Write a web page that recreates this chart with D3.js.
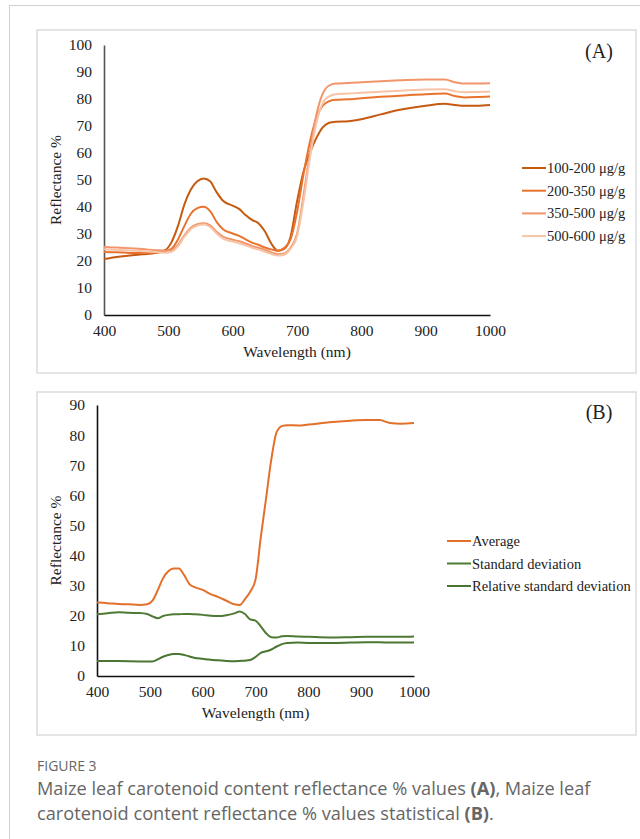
<!DOCTYPE html>
<html>
<head>
<meta charset="utf-8">
<script src="https://cdn.jsdelivr.net/npm/d3@7"></script>
<style>
  html, body { margin: 0; padding: 0; background: #fff; }
  svg { display: block; }
  .serif { font-family: "Liberation Serif", "Times New Roman", serif; fill: #222; }
  .cap { font-family: "Open Sans", "Noto Sans", sans-serif; fill: #666; }
</style>
</head>
<body>
<svg id="fig" width="640" height="839"></svg>
<script>
// ---- Panel A: reflectance by carotenoid content class ----
const wlA = [400,420,440,460,480,495,505,515,525,535,545,555,565,575,585,600,610,620,630,640,650,660,670,680,
             690,700,710,720,730,740,750,760,780,800,830,860,900,930,945,960,980,1000];
const s100_200 = [20.7,21.5,22.0,22.5,23.0,24.0,27.0,33.0,41.0,46.5,49.5,50.6,49.5,45.5,42.3,40.5,39.3,37.0,35.2,34.0,31.0,26.5,23.8,24.5,
                  29,42,53,60,65.5,69.5,71.2,71.6,71.8,72.5,74.3,76.0,77.5,78.2,77.8,77.5,77.5,77.8];
const s200_350 = [23.3,23.2,23.0,23.0,23.1,23.6,24.5,28,33,37.5,39.6,40.1,38.5,34.5,31.8,30.2,29.3,28,26.8,26,25,24.3,23.8,24.8,
                  28,38,52,64,73,77.5,79.2,79.7,79.9,80.3,80.8,81.2,81.8,82.0,81.1,80.6,80.7,80.9];
const s350_500 = [25.2,25,24.7,24.4,24.0,23.8,24.0,26,29.5,32.3,33.6,34,33.2,30.8,29,27.9,27.3,26.5,25.6,24.9,24.1,23.2,22.5,22.8,
                  25,30,44,60,74,82,85,85.7,85.9,86.2,86.6,86.9,87.2,87.2,86.2,85.7,85.7,85.8];
const s500_600 = [24.4,24.2,23.9,23.6,23.3,23.1,23.4,25.4,29,31.8,33.1,33.5,32.6,30.2,28.3,27.2,26.6,25.8,24.9,24.2,23.4,22.6,22,22.3,
                  24.5,29,42,58,71,78.5,81,81.8,82,82.3,82.7,83.1,83.5,83.6,82.9,82.5,82.6,82.7];
const namesA = ["100-200 μg/g","200-350 μg/g","350-500 μg/g","500-600 μg/g"];
const colorsA = ["#C55A11","#E8732E","#F2956A","#F7C4A8"];
const ticksA_y = [0,10,20,30,40,50,60,70,80,90,100];
const ticksX = [400,500,600,700,800,900,1000];

// ---- Panel B: summary statistics ----
const wlB = [400,420,440,460,480,495,505,515,525,535,545,555,565,575,585,600,615,630,645,660,670,680,690,700,710,720,730,740,750,760,
             780,800,840,880,910,935,955,975,1000];
const average = [24.4,24.2,23.9,23.8,23.6,23.8,25,28.5,32.5,34.8,35.7,35.7,33.5,30.5,29.5,28.6,27.2,26.2,25,23.8,23.6,25.5,28,32,46,59,72,81,83,83.3,
                 83.2,83.5,84.3,84.8,85,85,84,83.8,84];
const stdDev = [20.5,20.8,21.2,21,20.9,20.6,19.8,19.2,19.9,20.3,20.5,20.5,20.6,20.6,20.5,20.3,20.0,19.9,20.2,20.8,21.4,20.6,18.8,18.4,16.5,14.2,12.9,12.8,13.2,13.3,
                13.1,13.0,12.8,12.9,13.0,13.0,13.0,13.0,13.1];
const relStdDev = [5.0,5.0,4.95,4.9,4.85,4.8,4.8,5.5,6.4,7.0,7.3,7.3,7.0,6.5,6.0,5.7,5.4,5.2,5.0,4.9,5.0,5.1,5.3,6.3,7.7,8.2,8.8,9.8,10.6,11.0,
                   11.1,11.0,11.0,11.1,11.2,11.2,11.1,11.1,11.1];
const namesB = ["Average","Standard deviation","Relative standard deviation"];
const colorsB = ["#E2702B","#4E7A34","#4A7632"];
const ticksB_y = [0,10,20,30,40,50,60,70,80,90];

const svg = d3.select("#fig");

// page frame lines
svg.append("line").attr("x1", 9.5).attr("x2", 9.5).attr("y1", 5).attr("y2", 839).attr("stroke", "#cfcfcf").attr("stroke-width", 1);
svg.append("line").attr("x1", 9.5).attr("x2", 640).attr("y1", 5.5).attr("y2", 5.5).attr("stroke", "#cfcfcf").attr("stroke-width", 1);

function panel(cfg) {
  const g = svg.append("g");
  g.append("rect").attr("x", cfg.box[0]).attr("y", cfg.box[1]).attr("width", cfg.box[2]).attr("height", cfg.box[3])
    .attr("fill", "#fff").attr("stroke", "#dcdcdc").attr("stroke-width", 1.5);

  const x = d3.scaleLinear().domain([400, 1000]).range([cfg.x0, cfg.x1]);
  const y = d3.scaleLinear().domain([0, cfg.ymax]).range([cfg.y0, cfg.y1]);

  // y axis
  const ya = g.append("g").attr("transform", `translate(${cfg.x0},0)`)
    .call(d3.axisLeft(y).tickValues(cfg.yticks).tickSize(0).tickPadding(cfg.ypad));
  ya.select(".domain").attr("stroke", cfg.yAxisColor).attr("stroke-width", 1.6);
  ya.selectAll("text").attr("class", "serif").attr("font-size", 15.5).attr("fill", "#222");

  // x axis
  const xa = g.append("g").attr("transform", `translate(0,${cfg.y0})`)
    .call(d3.axisBottom(x).tickValues(ticksX).tickSize(0).tickPadding(10).tickFormat(d3.format("d")));
  xa.select(".domain").attr("stroke", "#111").attr("stroke-width", 1.6);
  xa.selectAll("text").attr("class", "serif").attr("font-size", 15.5).attr("fill", "#222");

  g.append("text").attr("class", "serif").attr("font-size", 15.5)
    .attr("x", (cfg.x0 + cfg.x1) / 2).attr("y", cfg.y0 + 42).attr("text-anchor", "middle").text("Wavelength (nm)");
  g.append("text").attr("class", "serif").attr("font-size", 15.5)
    .attr("transform", `translate(${cfg.ylabX},${(cfg.y0 + cfg.y1) / 2}) rotate(-90)`)
    .attr("text-anchor", "middle").text("Reflectance %");
  g.append("text").attr("class", "serif").attr("font-size", 20)
    .attr("x", cfg.tag[0]).attr("y", cfg.tag[1]).attr("text-anchor", "middle").text(cfg.tagText);

  const line = d3.line().x((d, i) => x(cfg.wl[i])).y(d => y(d)).curve(d3.curveMonotoneX);
  cfg.series.forEach((s, k) => {
    g.append("path").datum(s).attr("d", line).attr("fill", "none")
      .attr("stroke", cfg.colors[k]).attr("stroke-width", 2).attr("stroke-linejoin", "round");
  });

  // legend
  cfg.names.forEach((n, k) => {
    const yy = cfg.leg[1] + k * cfg.leg[2];
    g.append("line").attr("x1", cfg.leg[0]).attr("x2", cfg.leg[0] + 24).attr("y1", yy).attr("y2", yy)
      .attr("stroke", cfg.colors[k]).attr("stroke-width", 2);
    g.append("text").attr("class", "serif").attr("font-size", 14.5)
      .attr("x", cfg.leg[0] + 25).attr("y", yy).attr("dy", "0.35em").text(n);
  });
}

panel({
  box: [37, 30, 599, 343],
  x0: 104, x1: 490, y0: 315, y1: 45, ymax: 100, yticks: ticksA_y, ypad: 12,
  yAxisColor: "#555", ylabX: 61, tag: [599, 58], tagText: "(A)",
  wl: wlA, series: [s100_200, s200_350, s350_500, s500_600], colors: colorsA, names: namesA,
  leg: [522, 168, 22.7]
});

panel({
  box: [37, 392, 599, 343],
  x0: 97, x1: 414, y0: 676, y1: 405, ymax: 90, yticks: ticksB_y, ypad: 12,
  yAxisColor: "#111", ylabX: 61, tag: [599, 419], tagText: "(B)",
  wl: wlB, series: [average, stdDev, relStdDev], colors: colorsB, names: namesB,
  leg: [447, 541, 22.5]
});

// caption
svg.append("text").attr("class", "cap").attr("x", 37).attr("y", 771).attr("font-size", 14).text("FIGURE 3");
const cap1 = svg.append("text").attr("class", "cap").attr("x", 37).attr("y", 795).attr("font-size", 18.2);
cap1.append("tspan").text("Maize leaf carotenoid content reflectance % values ");
cap1.append("tspan").attr("font-weight", "bold").text("(A)");
cap1.append("tspan").text(", Maize leaf");
const cap2 = svg.append("text").attr("class", "cap").attr("x", 37).attr("y", 820).attr("font-size", 18.2);
cap2.append("tspan").text("carotenoid content reflectance % values statistical ");
cap2.append("tspan").attr("font-weight", "bold").text("(B)");
cap2.append("tspan").text(".");
</script>
</body>
</html>
